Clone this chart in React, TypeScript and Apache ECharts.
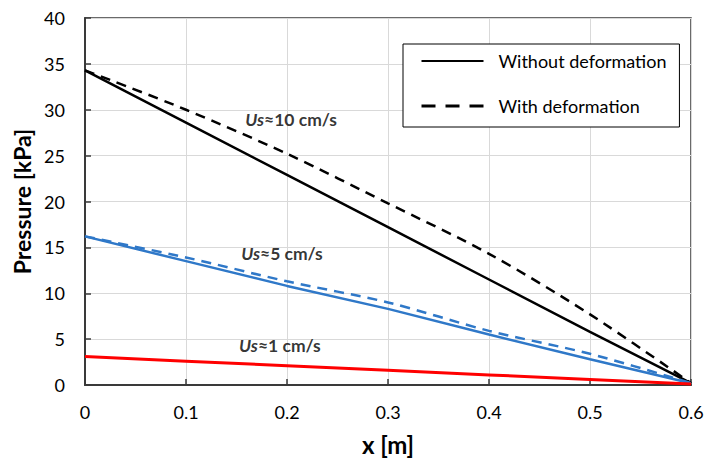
import React, { useEffect, useRef } from "react";
import * as echarts from "echarts";

// Distance along the channel [m]
const xPositions = [0, 0.1, 0.2, 0.3, 0.4, 0.5, 0.6];

// Pressure [kPa] for each superficial velocity, rigid vs. deforming wall
const p10Rigid = [34.3, 28.6, 22.9, 17.2, 11.5, 5.8, 0.2];
const p10Deform = [34.3, 30.0, 25.2, 19.8, 14.3, 7.7, 0.2];
const p5Rigid = [16.2, 13.5, 10.8, 8.3, 5.5, 2.8, 0.2];
const p5Deform = [16.2, 13.9, 11.3, 9.0, 5.9, 3.4, 0.2];
const p1Rigid = [3.1, 2.6, 2.1, 1.6, 1.1, 0.6, 0.1];

// In-plot velocity labels: [x, pressure, speed text]
const velocityLabels: [number, number, string][] = [
  [0.204, 28.9, "10 cm/s"],
  [0.195, 14.3, "5 cm/s"],
  [0.193, 4.3, "1 cm/s"],
];

const legendNames = ["Without deformation", "With deformation"];

const FONT = "Lato, 'Liberation Sans', sans-serif";

function pairs(ys: number[]) {
  return xPositions.map((x, i) => [x, ys[i]]);
}

export default function App() {
  const ref = useRef<HTMLDivElement>(null);

  useEffect(() => {
    if (!ref.current) return;
    const chart = echarts.init(ref.current, undefined, { renderer: "svg" });

    const line = (
      name: string,
      ys: number[],
      color: string,
      dashed: boolean,
      width = 2.5
    ) => ({
      name,
      type: "line",
      data: pairs(ys),
      symbol: "none",
      smooth: dashed ? 0.3 : false,
      lineStyle: {
        color,
        width,
        type: dashed ? [10, 7] : "solid",
      },
      itemStyle: { color },
      z: 3,
    });

    chart.setOption({
      animation: false,
      backgroundColor: "#ffffff",
      textStyle: { fontFamily: FONT },
      grid: {
        left: 85,
        right: 16,
        top: 18,
        bottom: 73,
        show: true,
        borderColor: "#3a3a3a",
        borderWidth: 1.5,
      },
      legend: {
        data: [
          { name: legendNames[0] },
          { name: legendNames[1], lineStyle: { type: [14, 10], width: 3 } },
        ],
        orient: "vertical",
        left: 403,
        top: 44,
        itemWidth: 62,
        itemHeight: 18,
        itemGap: 27,
        padding: [8, 13, 12, 17],
        borderColor: "#000",
        borderWidth: 1,
        backgroundColor: "#fff",
        itemStyle: { opacity: 0 },
        textStyle: { fontFamily: FONT, fontSize: 18, color: "#000", padding: [0, 0, 0, 10] },
      },
      xAxis: {
        type: "value",
        min: 0,
        max: 0.6,
        interval: 0.1,
        name: "x [m]",
        nameLocation: "middle",
        nameGap: 47,
        nameTextStyle: { fontFamily: FONT, fontSize: 24, fontWeight: "bold", color: "#000" },
        axisLine: { show: true, lineStyle: { color: "#3a3a3a", width: 2 } },
        axisTick: { show: true, inside: true, length: 6, lineStyle: { color: "#3a3a3a", width: 1.5 } },
        axisLabel: {
          fontFamily: FONT,
          fontSize: 18,
          color: "#000",
          margin: 18,
          formatter: (v: number) => String(Math.round(v * 10) / 10),
        },
        splitLine: { show: true, lineStyle: { color: "#d9d9d9", width: 1 } },
      },
      yAxis: {
        type: "value",
        min: 0,
        max: 40,
        interval: 5,
        name: "Pressure [kPa]",
        nameLocation: "middle",
        nameGap: 50,
        nameTextStyle: { fontFamily: FONT, fontSize: 23, fontWeight: "bold", color: "#000" },
        axisLine: { show: true, lineStyle: { color: "#3a3a3a", width: 2 } },
        axisTick: { show: true, inside: true, length: 6, lineStyle: { color: "#3a3a3a", width: 1.5 } },
        axisLabel: { fontFamily: FONT, fontSize: 18, color: "#000", margin: 20 },
        splitLine: { show: true, lineStyle: { color: "#d9d9d9", width: 1 } },
      },
      series: [
        line(legendNames[0], p10Rigid, "#000000", false),
        line(legendNames[1], p10Deform, "#000000", true),
        line("Us 5 rigid", p5Rigid, "#2f78c8", false),
        line("Us 5 deforming", p5Deform, "#2f78c8", true),
        line("Us 1 rigid", p1Rigid, "#ff0000", false, 3),
        {
          name: "velocity labels",
          type: "scatter",
          symbolSize: 0,
          silent: true,
          z: 5,
          data: velocityLabels.map(([x, y, t]) => ({ value: [x, y], text: t })),
          label: {
            show: true,
            position: "inside",
            formatter: (p: any) => `{i|Us}{b|≈${p.data.text}}`,
            rich: {
              i: { fontFamily: FONT, fontSize: 17.5, fontWeight: "bold", fontStyle: "italic", color: "#000" },
              b: { fontFamily: FONT, fontSize: 17.5, fontWeight: "bold", color: "#000" },
            },
          },
        },
      ],
    });

    return () => chart.dispose();
  }, []);

  return <div ref={ref} style={{ width: 707, height: 461, position: "absolute", left: 0, top: 0 }} />;
}
